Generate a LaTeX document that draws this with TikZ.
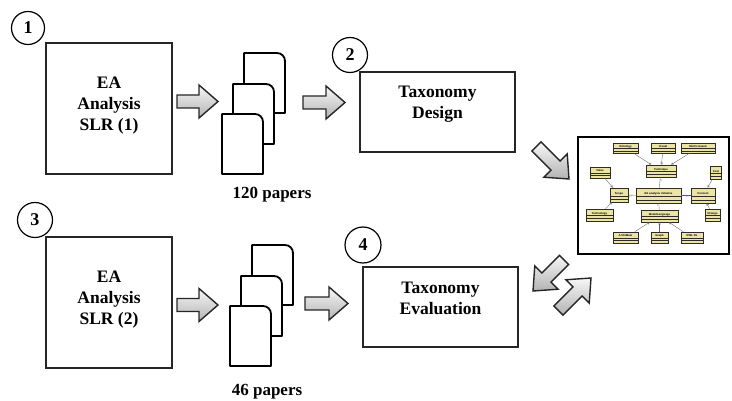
\documentclass[tikz,border=0pt]{standalone}
\usepackage{fontspec}
\setmainfont{Liberation Serif}
\newfontfamily\umlfont{Liberation Sans}
\usetikzlibrary{arrows.meta,calc}

\definecolor{umlfill}{RGB}{236,228,165}
\definecolor{umlline}{RGB}{45,45,35}

\tikzset{
  stepnum/.style={circle, draw, line width=1.2pt, minimum size=#1, inner sep=0pt,
    font=\fontsize{18}{18}\selectfont\bfseries},
  procbox/.style={draw=black!85, line width=1.6pt, inner sep=0pt},
  boxtext/.style={align=center, inner sep=0pt, font=\fontsize{17.5}{21}\selectfont\bfseries},
  countlabel/.style={inner sep=0pt, font=\fontsize{17}{17}\selectfont\bfseries},
  paper/.style={draw, fill=white, line width=1.8pt, line join=round},
  arrowbody/.style={draw=black!85, line width=1.4pt, line join=miter,
    top color=gray!6, bottom color=gray!60},
  % a document sheet with one rounded corner, placed by its top-left corner
  pics/page/.style={code={
    \draw[paper] (0,60) -- (0,0) -- (33,0) .. controls (37.4,0) and (41,3.6) .. (41,8)
      -- (41,60) -- cycle;}},
  % a block arrow whose tip is at the origin, pointing along +x
  pics/blockarrow/.style={code={
    \draw[arrowbody] (-#1,-6.5) -- (-19,-6.5) -- (-19,-16.5) -- (0,0)
      -- (-19,16.5) -- (-19,6.5) -- (-#1,6.5) -- cycle;}},
  umlcls/.style={draw=umlline, fill=umlfill, line width=0.55pt, inner sep=0pt,
    text height=2.1pt, text depth=3.6pt,
    font=\umlfont\fontsize{2.8}{3}\selectfont\bfseries,
    path picture={
      \draw[umlline, line width=0.35pt]
        ($(path picture bounding box.north west)!0.55!(path picture bounding box.south west)$) --
        ($(path picture bounding box.north east)!0.55!(path picture bounding box.south east)$);
      \draw[umlline, line width=0.35pt]
        ($(path picture bounding box.north west)!0.78!(path picture bounding box.south west)$) --
        ($(path picture bounding box.north east)!0.78!(path picture bounding box.south east)$);
    }},
  umlgen/.style={draw=gray!75!black, line width=0.35pt, -{Triangle[open, length=2.2pt, width=2.4pt]}},
  umlassoc/.style={draw=gray!75!black, line width=0.35pt},
  umlmult/.style={inner sep=0.3pt, font=\umlfont\fontsize{2.4}{2.4}\selectfont, text=gray!70!black}
}

\begin{document}
\begin{tikzpicture}[x=1pt, y=-1pt]
  \useasboundingbox (0,0) rectangle (732,401);

  % ---- first review: SLR (1) -> 120 papers -> taxonomy design
  \node[procbox, minimum width=126pt, minimum height=131pt] (slr1) at (109,108.5) {};
  \node[boxtext] (slr1txt) at (109,106) {EA\\Analysis\\SLR (1)};
  \node[stepnum=33pt, fill=white] (n1) at (28,28) {1};

  \pic at (218,101.5) {blockarrow=41};

  \pic at (244,53) {page};
  \pic at (233,84) {page};
  \pic at (222,114) {page};
  \node[countlabel] (cnt1) at (272,195) {120 papers};

  \pic at (345,102.5) {blockarrow=42};

  \node[procbox, minimum width=155pt, minimum height=80pt] (design) at (437.5,112) {};
  \node[boxtext] (designtxt) at (437.5,104) {Taxonomy\\Design};
  \node[stepnum=35pt, fill=white] (n2) at (350,55) {2};

  % ---- second review: SLR (2) -> 46 papers -> taxonomy evaluation
  \node[procbox, minimum width=126pt, minimum height=131pt] (slr2) at (109,302.5) {};
  \node[boxtext] (slr2txt) at (109,300) {EA\\Analysis\\SLR (2)};
  \node[stepnum=35pt, fill=white] (n3) at (35,220) {3};

  \pic at (218,305) {blockarrow=41};

  \pic at (252,245) {page};
  \pic at (241,276) {page};
  \pic at (230,306) {page};
  \node[countlabel] (cnt2) at (267,392) {46 papers};

  \pic at (348,303.5) {blockarrow=43};

  \node[procbox, minimum width=155pt, minimum height=80pt] (eval) at (440.5,307) {};
  \node[boxtext] (evaltxt) at (440.5,298) {Taxonomy\\Evaluation};
  \node[stepnum=36pt, fill=white] (n4) at (363,245) {4};

  % ---- diagonal arrows to and from the taxonomy model
  \pic[rotate=-45] at (569,179) {blockarrow=46};
  \pic[rotate=-135] at (533,291) {blockarrow=44};
  \pic[rotate=45] at (591,278) {blockarrow=46};

  % ---- taxonomy model (class diagram)
  \node[draw, line width=2.8pt, minimum width=151pt, minimum height=117pt, inner sep=0pt,
        fill=white] (model) at (653.5,195.5) {};

  \node[umlcls, minimum width=25pt, minimum height=10pt] (ont) at (625.5,148) {Ontology};
  \node[umlcls, minimum width=24pt, minimum height=10pt] (vis) at (663,148) {Visual};
  \node[umlcls, minimum width=34pt, minimum height=10pt] (met) at (698,148) {Metric-based};
  \node[umlcls, minimum width=30pt, minimum height=12pt] (tec) at (661,171) {Technique};
  \node[umlcls, minimum width=20pt, minimum height=11pt] (val) at (600,172.5) {Value};
  \node[umlcls, minimum width=11pt, minimum height=13pt] (cst) at (716,173) {Cost};
  \node[umlcls, minimum width=18pt, minimum height=14pt] (scp) at (619,195) {Scope};
  \node[umlcls, minimum width=45pt, minimum height=15pt] (eai) at (658.5,195.5) {EA analysis initiative};
  \node[umlcls, minimum width=24pt, minimum height=15pt] (con) at (703,195.5) {Concern};
  \node[umlcls, minimum width=27pt, minimum height=12pt] (tgy) at (599.5,215) {Technology};
  \node[umlcls, minimum width=37pt, minimum height=12pt] (mlg) at (659.5,216) {ModelLanguage};
  \node[umlcls, minimum width=15pt, minimum height=12pt] (chg) at (712.5,215) {Change};
  \node[umlcls, minimum width=25pt, minimum height=11pt] (arc) at (625.5,237.5) {ArchiMate};
  \node[umlcls, minimum width=17pt, minimum height=11pt] (grp) at (659.5,237.5) {Graph};
  \node[umlcls, minimum width=22pt, minimum height=11pt] (owl) at (692,237.5) {OWL DL};

  \draw[umlgen] (ont) -- (tec);
  \draw[umlgen] (vis) -- (tec);
  \draw[umlgen] (met) -- (tec);
  \draw[umlgen] (val) -- (scp);
  \draw[umlgen] (tgy) -- (scp);
  \draw[umlgen] (cst) -- (con);
  \draw[umlgen] (chg) -- (con);
  \draw[umlgen] (arc) -- (mlg);
  \draw[umlgen] (grp) -- (mlg);
  \draw[umlgen] (owl) -- (mlg);

  \draw[umlassoc] (eai) -- node[umlmult, right, pos=0.7] {1} (tec);
  \draw[umlassoc] (eai) -- node[umlmult, below, pos=0.7] {1..*} (scp);
  \draw[umlassoc] (eai) -- node[umlmult, below, pos=0.7] {1..*} (con);
  \draw[umlassoc] (eai) -- node[umlmult, left, pos=0.3] {1} (mlg);
\end{tikzpicture}
\end{document}
